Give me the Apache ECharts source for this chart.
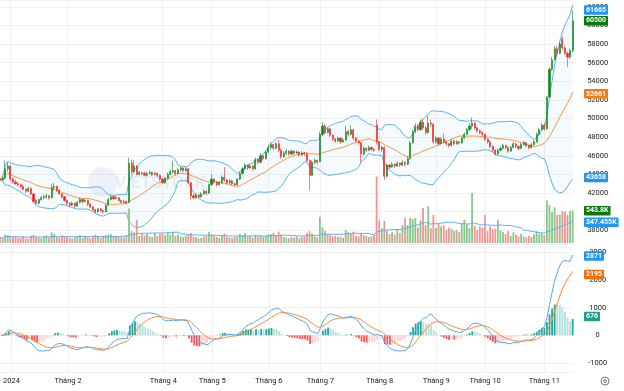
<!DOCTYPE html>
<html><head><meta charset="utf-8">
<script src="https://cdn.jsdelivr.net/npm/echarts/dist/echarts.min.js"></script>
<style>html,body{margin:0;padding:0;background:#fff}#c{width:624px;height:391px}</style>
</head><body><div id="c"></div>
<script>
// ---------- data ----------
const firstDay = '2023-12-26';
const lastDay = '2024-11-18';
const holidays = ['2024-01-01','2024-02-08','2024-02-09','2024-02-12','2024-02-13','2024-02-14',
  '2024-04-18','2024-04-29','2024-04-30','2024-05-01','2024-09-02','2024-09-03'];
const tickLabels = [['2024-01-02','2024'],['2024-02-01','Tháng 2'],['2024-04-01','Tháng 4'],['2024-05-02','Tháng 5'],
  ['2024-06-03','Tháng 6'],['2024-07-01','Tháng 7'],['2024-08-01','Tháng 8'],['2024-09-04','Tháng 9'],
  ['2024-10-01','Tháng 10'],['2024-11-01','Tháng 11']];
// [open, close, low, high]
const ohlc = [
[43600,43400,43200,43800],[43400,43600,43300,43800],[43600,44600,43500,45500],[44600,44900,44300,45300],[44900,43500,43300,45000],
[43500,43200,43000,43700],[43200,43000,42900,43400],[43000,42900,42700,43200],[42900,42700,42500,43000],[42700,42400,42300,42900],
[42400,42200,42000,42500],[42200,42500,42100,42700],[42500,41900,41800,42600],[41900,41100,41000,42000],[41200,40900,40700,41400],
[40900,41300,40800,41400],[41300,41500,41200,41700],[41500,41600,41300,41800],[41600,41700,41400,41900],[41700,41500,41300,41800],
[41500,42600,41400,43000],[42600,42700,42300,43100],[42700,42300,42100,42800],[42300,41900,41800,42400],[41900,41600,41400,42000],
[41600,41200,41100,41700],[41200,40900,40700,41300],[40900,40700,40500,41000],[40700,40900,40600,41100],[40900,40600,40400,41000],
[40600,41000,40500,41200],[41000,41300,40900,41500],[41300,41100,40900,41400],[41100,41200,41000,41400],[41200,40800,40600,41300],
[40800,40500,40400,40900],[40500,40200,40100,40600],[40200,40000,39800,40300],[40000,40300,39900,40400],[40300,40100,40000,40400],
[40100,40000,39800,40200],[40000,40700,39900,40800],[40700,41300,40600,41500],[41300,41600,41200,41800],[41600,41400,41200,41700],
[41400,41500,41300,41700],[41500,41200,41100,41600],[41200,41000,40900,41300],[41000,41100,40900,41300],[41100,40900,40800,41200],
[41000,45200,40900,45800],[45200,44300,44100,45600],[44300,44900,44200,45500],[44900,44000,43900,45000],[44000,44200,43900,44400],
[44200,44100,43900,44300],[44100,43900,43800,44300],[43900,44100,43800,44300],[44100,44200,44000,44400],[44200,44000,43800,44300],
[44000,44100,43900,44300],[44100,43900,43700,44200],[43900,43500,43300,44000],[43500,43100,43000,43600],[43100,43600,43000,43700],
[43600,44000,43500,44200],[44000,44300,43900,44500],[44300,44400,44100,45500],[44400,44100,43900,44500],[44100,44500,44000,44700],
[44500,44700,44300,44900],[44700,44400,44200,44800],[44400,44600,44300,44800],[44600,43100,43000,44700],[43100,41700,41300,43200],
[41700,41500,41300,41900],[41500,41800,41400,42000],[41800,41600,41400,41900],[41600,41900,41500,42100],[41900,42200,41800,42400],
[42200,42000,41800,42300],[42000,42900,41900,43000],[42900,43500,42800,44000],[43500,43200,43000,43600],[43200,42900,42700,43300],
[42900,43100,42800,43300],[43100,43700,43000,43900],[43700,43400,43200,44800],[43400,43100,42900,43500],[43100,43300,43000,43500],
[43300,43000,42800,43400],[43000,42900,42700,43100],[42900,43500,42800,43600],[43500,44100,43400,44300],[44100,44600,44000,44800],
[44600,45000,44500,45200],[45000,44700,44500,45100],[44700,44900,44600,45100],[44900,44600,44400,45000],[44600,45600,44500,45800],
[45600,45300,45100,45700],[45300,46000,45200,46300],[46000,45700,45500,46100],[45700,46400,45600,46600],[46400,46900,46300,47200],
[46900,47200,46700,47500],[47200,46800,46600,47300],[46800,47300,46700,47500],[47300,46600,46400,47700],[46600,45900,45700,46800],
[45900,46300,45800,46500],[46300,46500,46100,46700],[46500,46200,46000,46600],[46200,46500,46100,46700],[46500,46300,46100,46600],
[46300,46400,46200,46600],[46400,46100,45900,46500],[46100,46300,46000,46500],[46300,46200,46000,46400],[46200,45500,45300,46300],
[45500,43900,42300,45600],[43900,45300,43800,45500],[45300,45500,45100,45700],[45500,45300,45100,45600],[45400,48300,45300,48600],
[48300,49200,48100,49600],[49200,48500,48300,49400],[48500,48900,48400,49100],[48900,48200,48000,49000],[48200,47800,47600,48300],
[47800,47600,47400,47900],[47600,47900,47500,48100],[47900,47500,47300,48000],[47500,47700,47400,47900],[47700,48600,47600,49200],
[48600,48300,48100,48800],[48300,48800,48200,49300],[48800,47900,47700,48900],[47900,47600,47400,48000],[47600,47400,47200,47700],
[47400,46200,45300,47500],[46200,46800,46000,47000],[46800,46600,46400,46900],[46600,46900,46500,47100],[46900,46700,46500,47000],
[46700,46600,46400,46800],[49300,47500,47200,49900],[47500,46700,46500,47600],[46700,46900,46400,47100],[46900,43800,43400,47000],
[43800,45000,43700,45200],[45000,44800,44600,45100],[44800,45100,44700,45300],[45100,44900,44700,45200],[44900,45200,44800,45400],
[45200,45000,44800,45300],[45000,45300,44900,45500],[45300,45100,44900,45400],[45100,45700,45000,45900],[45700,47400,45600,47600],
[47400,48600,47300,48800],[48600,49200,48400,49500],[49200,48800,48600,49400],[48800,49600,48700,49900],[49600,49000,48800,50000],
[49000,48500,48300,49200],[48500,49500,48400,50300],[49500,49400,49100,49900],[49400,47500,47300,49500],[47500,47900,47300,48100],
[47900,47300,47100,48000],[47300,47800,47200,48000],[47800,47500,47300,48400],[47500,47300,47100,47600],[47300,47100,46900,47400],
[47100,47600,47000,47800],[47600,47300,47100,47700],[47300,47500,47200,47700],[47500,47400,47200,47600],[47400,47900,47300,48100],
[47900,48300,47800,48500],[48300,48800,48200,49000],[48800,49200,48700,49500],[49200,49500,48900,50100],[49500,49000,48800,49600],
[49000,48700,48500,49100],[48700,48500,48300,48800],[48500,48300,48100,48600],[48300,47800,47600,48400],[47800,47500,47300,47900],
[47500,47000,46800,47600],[47000,46600,46400,47100],[46600,46200,46000,46700],[46200,46600,46100,46800],[46600,46800,46500,47000],
[46800,47100,46700,47300],[47100,46900,46700,47200],[46900,46500,46300,47000],[46500,46900,46400,47100],[46900,47300,46800,47500],
[47300,47000,46800,47400],[47000,46800,46600,47100],[46800,47200,46700,47400],[47200,47400,47100,47600],[47400,47100,46900,47500],
[47100,46900,46700,47200],[46900,47200,46800,47400],[47200,47500,47100,47700],[47500,48300,47400,48500],[48300,48800,48200,49000],
[48800,49300,48700,49500],[49300,48900,48700,49500],[48900,52300,48800,52400],[52300,55300,52200,55500],[55300,56300,55100,56600],
[56300,57500,56200,57800],[57500,57000,56700,57800],[57000,58000,56900,58200],[58500,57600,57400,58800],[57600,57000,56800,57800],
[57000,56600,55500,57200],[56600,57300,56400,57500],[57300,60500,57100,61600]
];
// volume, thousand shares
const volumeK = [
90,80,140,130,110,95,100,85,90,110, 80,70,120,140,100,90,80,110,130,90,
180,150,100,90,130,110,100,85,75,95, 110,130,90,120,100,80,110,140,100,90,
120,130,140,150,110,120,100,110,90,130,
580,200,180,390,120,160,130,150,110,100, 170,120,150,160,130,180,140,190,120,140,
110,100,120,150,170,110,100,80,90,110, 120,190,140,120,100,90,130,160,100,90,
80,100,110,150,130,170,110,120,90,140,
110,130,100,120,140,150,170,130,190,140, 100,90,80,100,90,110,80,100,110,170,
200,160,110,100,440,260,200,150,130,110, 120,100,110,90,220,180,160,190,120,110,
170,130,120,100,110,140,1120,380,250,370,
200,150,180,140,220,170,300,420,300,420, 400,420,260,380,590,300,620,250,470,250,
330,280,300,220,260,240,200,220,180,330, 390,310,250,840,290,220,280,260,470,200,
280,230,240,390,210,180,150,200,120,180,
140,110,150,110,90,120,100,150,200,150, 170,130,720,640,520,600,470,480,540,530,
470,540,544
];
// last-value tags shown on the scales
const priceTagValues = [61665, 60500, 52661, 43658];   // BB upper, close, BB basis, BB lower
const volumeTagValuesK = [543.8, 347.455];              // volume, volume MA
const macdTagValues = [2871, 2195, 676];                // MACD, signal, histogram

// ---------- trading calendar ----------
function tradingDays(start, end, hol) {
  const out = []; const d = new Date(start + 'T00:00:00Z'); const e = new Date(end + 'T00:00:00Z');
  while (d <= e) { const wd = d.getUTCDay(); const s = d.toISOString().slice(0, 10);
    if (wd !== 0 && wd !== 6 && hol.indexOf(s) < 0) out.push(s); d.setUTCDate(d.getUTCDate() + 1); }
  return out;
}
const dates = tradingDays(firstDay, lastDay, holidays);
const tickMap = new Map(tickLabels);

// ---------- indicators from the price data ----------
const closes = ohlc.map(d => d[1]);
const bbUpper = [], bbBasis = [], bbLower = [];
closes.forEach((c, i) => {
  const w = closes.slice(Math.max(0, i - 19), i + 1);
  const m = w.reduce((a, b) => a + b, 0) / w.length;
  const sd = Math.sqrt(w.reduce((a, b) => a + (b - m) * (b - m), 0) / w.length);
  bbBasis.push(m); bbUpper.push(m + 2 * sd); bbLower.push(m - 2 * sd);
});
const volMA = volumeK.map((v, i) => { const w = volumeK.slice(Math.max(0, i - 19), i + 1); return w.reduce((a, b) => a + b, 0) / w.length; });
function ema(arr, n) { const k = 2 / (n + 1); const out = []; arr.forEach((v, i) => out.push(i ? out[i - 1] + k * (v - out[i - 1]) : v)); return out; }
const e12 = ema(closes, 12), e26 = ema(closes, 26);
const macd = closes.map((_, i) => e12[i] - e26[i]);
const signal = ema(macd, 9);
const hist = macd.map((m, i) => m - signal[i]);

// ---------- styles ----------
const UP = '#0b8a1f', DOWN = '#f2231d';
const VUP = '#88c788', VDOWN = '#f39494';
const BLUE = '#5eaef3', ORANGE = '#f7963f';
const GRIDC = '#f1f1f1';
const FONT = 'Roboto, Arial, sans-serif';
const L = -0.32, W = 573;

const chart = echarts.init(document.getElementById('c'), null, { renderer: 'canvas' });
const catAxis = (gi, showLabel) => ({
  type: 'category', gridIndex: gi, data: dates, boundaryGap: false,
  axisLine: { show: false }, axisTick: { show: false },
  axisLabel: { show: showLabel, interval: (i, v) => tickMap.has(v), formatter: v => tickMap.get(v) || '',
    color: '#222', fontSize: 7.5, fontFamily: FONT, margin: 5 },
  splitLine: { show: gi !== 1, interval: (i, v) => tickMap.has(v), lineStyle: { color: GRIDC, width: 1 } }
});
const valLabel = { color: '#222', fontSize: 7.5, fontFamily: FONT, margin: 25, align: 'center',
  showMinLabel: false, showMaxLabel: false, formatter: v => String(v) };

chart.setOption({
  animation: false,
  grid: [
    { left: L, width: W, top: 0, height: 244 },
    { left: L, width: W, top: 143, height: 100 },
    { left: L, width: W, top: 247, height: 125 }
  ],
  xAxis: [catAxis(0, false), catAxis(1, false), catAxis(2, true)],
  yAxis: [
    { type: 'value', gridIndex: 0, position: 'right', min: 36530, max: 62727, minInterval: 2000, maxInterval: 2000,
      axisLine: { show: false }, axisTick: { show: false }, axisLabel: valLabel, splitLine: { lineStyle: { color: GRIDC } } },
    { type: 'value', gridIndex: 1, position: 'right', min: 0, max: 1680, axisLine: { show: false }, axisTick: { show: false },
      axisLabel: { show: false }, splitLine: { show: false } },
    { type: 'value', gridIndex: 2, position: 'right', min: -1327, max: 3193, minInterval: 1000, maxInterval: 1000,
      axisLine: { show: false }, axisTick: { show: false }, axisLabel: valLabel, splitLine: { lineStyle: { color: GRIDC } } }
  ],
  series: [
    { type: 'line', xAxisIndex: 0, yAxisIndex: 0, data: bbLower, stack: 'bb', symbol: 'none', z: 1,
      lineStyle: { color: BLUE, width: 1 } },
    { type: 'line', xAxisIndex: 0, yAxisIndex: 0, data: bbUpper.map((u, i) => u - bbLower[i]), stack: 'bb', symbol: 'none', z: 1,
      lineStyle: { color: BLUE, width: 1 }, areaStyle: { color: 'rgba(33,150,243,0.06)' } },
    { type: 'line', xAxisIndex: 0, yAxisIndex: 0, data: bbBasis, symbol: 'none', z: 1, lineStyle: { color: ORANGE, width: 1 } },
    { type: 'bar', xAxisIndex: 1, yAxisIndex: 1, barWidth: 1.8, clip: false, z: 2,
      data: volumeK.map((v, i) => ({ value: v, itemStyle: { color: ohlc[i][1] >= ohlc[i][0] ? VUP : VDOWN } })) },
    { type: 'line', xAxisIndex: 1, yAxisIndex: 1, data: volMA, symbol: 'none', z: 3, lineStyle: { color: BLUE, width: 1 } },
    { type: 'candlestick', xAxisIndex: 0, yAxisIndex: 0, data: ohlc, barWidth: 1.6, clip: false, z: 4,
      itemStyle: { color: UP, color0: DOWN, borderColor: UP, borderColor0: DOWN, borderWidth: 0.6 } },
    { type: 'bar', xAxisIndex: 2, yAxisIndex: 2, barWidth: 1.8, clip: false,
      data: hist.map((h, i) => {
        const p = i ? hist[i - 1] : h;
        const col = h >= 0 ? (h >= p ? '#26a69a' : '#b2dfdb') : (h <= p ? '#ff5252' : '#ffcdd2');
        return { value: h, itemStyle: { color: col } };
      }) },
    { type: 'line', xAxisIndex: 2, yAxisIndex: 2, data: macd, symbol: 'none', lineStyle: { color: '#4ea7f2', width: 1 } },
    { type: 'line', xAxisIndex: 2, yAxisIndex: 2, data: signal, symbol: 'none', lineStyle: { color: '#ff8833', width: 1 } }
  ]
});

// ---------- scale tags ----------
const tagX = 584;
function tag(axisIdx, v, text, bg) {
  const y = chart.convertToPixel({ yAxisIndex: axisIdx }, v);
  return { type: 'text', x: tagX, y: y, z: 100,
    style: { text: text, fill: '#fff', font: 'bold 7px ' + FONT, backgroundColor: bg, padding: [1.5, 2, 1, 2],
      verticalAlign: 'middle', align: 'left', borderRadius: 1 } };
}
const priceTagColors = ['#2196f3', '#0a7a0a', '#f57a12', '#2196f3'];
const volTagColors = ['#0a7a0a', '#2196f3'];
const macdTagColors = ['#2196f3', '#f26f10', '#1f9e8a'];
const graphics = [];
priceTagValues.forEach((v, i) => graphics.push(tag(0, v, String(v), priceTagColors[i])));
volumeTagValuesK.forEach((v, i) => graphics.push(tag(1, v, v + 'K', volTagColors[i])));
macdTagValues.forEach((v, i) => graphics.push(tag(2, v, String(v), macdTagColors[i])));
// watermark
graphics.push({ type: 'circle', shape: { cx: 103, cy: 182, r: 15 }, style: { fill: 'rgba(90,130,190,0.10)' }, z: 0 });
graphics.push({ type: 'text', x: 115, y: 184, z: 0, style: { text: 'VIETSTOCK', font: 'bold 17px ' + FONT, fill: 'rgba(90,120,170,0.12)', verticalAlign: 'middle' } });
// settings icon
graphics.push({ type: 'circle', shape: { cx: 605, cy: 381, r: 4 }, style: { fill: 'none', stroke: '#666', lineWidth: 0.9 } });
graphics.push({ type: 'circle', shape: { cx: 605, cy: 381, r: 1.4 }, style: { fill: 'none', stroke: '#666', lineWidth: 0.9 } });
chart.setOption({ graphic: graphics });
</script>
</body></html>
